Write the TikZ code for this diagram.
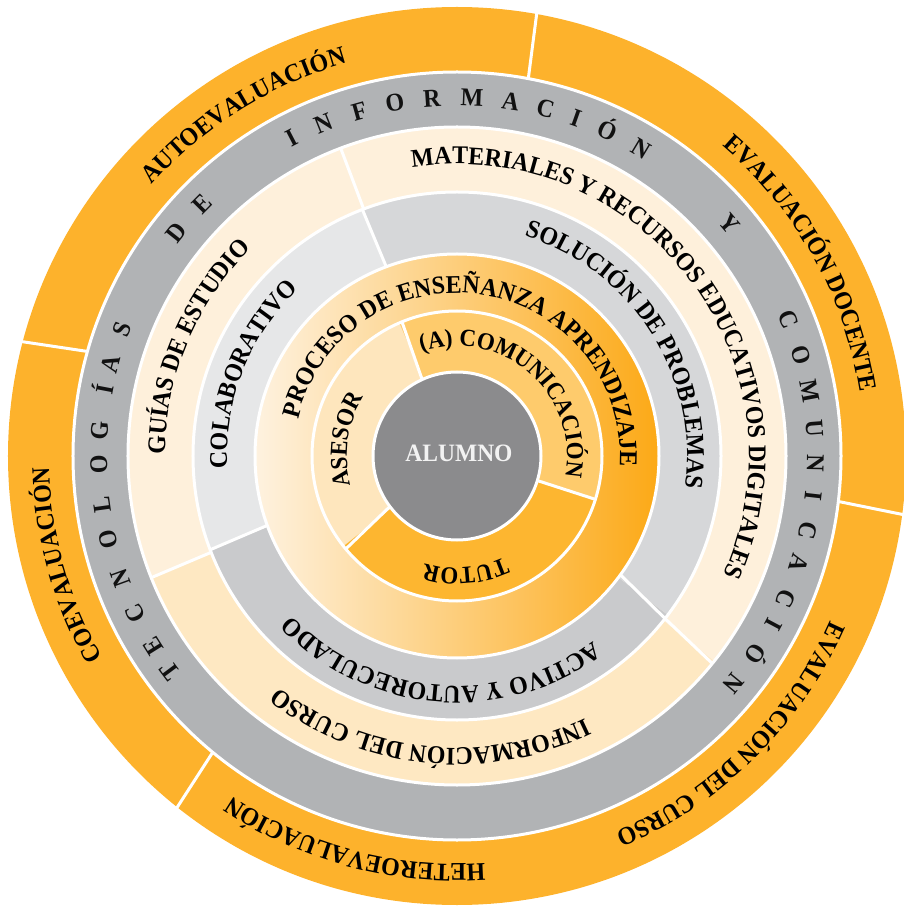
\documentclass[tikz,border=0pt]{standalone}
\usepackage{fontspec}
\setmainfont{Liberation Serif}[FakeStretch=0.94]
\usetikzlibrary{decorations.text}
\definecolor{orng}{HTML}{FDB22C}
\definecolor{grayring}{HTML}{B1B3B5}
\definecolor{cream}{HTML}{FEF0DB}
\definecolor{infocol}{HTML}{FEE8C2}
\definecolor{colab}{HTML}{E6E7E8}
\definecolor{soluc}{HTML}{D6D7D9}
\definecolor{activo}{HTML}{C9CACC}
\definecolor{alumcol}{HTML}{8B8B8D}
\definecolor{alumtext}{HTML}{F2F2F2}
\definecolor{asesorcol}{HTML}{FEE6BD}
\definecolor{comcol}{HTML}{FECB6C}
\definecolor{tutorcol}{HTML}{FDB630}
\definecolor{procL}{HTML}{FEF2E0}
\definecolor{procM}{HTML}{FEE2B2}
\definecolor{procR}{HTML}{FCA916}
\definecolor{txt}{HTML}{111111}
\newcommand\ringfont{\fontsize{25.5pt}{26pt}\selectfont\bfseries}
\newcommand\innerfont{\fontsize{24.5pt}{25pt}\selectfont\bfseries}
\newcommand\pieslice[4]{\fill[#1] (0,0) -- (#2:#4pt) arc[start angle=#2, end angle=#3, radius=#4pt] -- cycle;}
\newcommand\arctext[5][\ringfont]{\path[decorate,decoration={text along path,text align=center,text={|#1|#5}}] ({#2+#4}:#3pt) arc[start angle={#2+#4}, end angle={#2-#4}, radius=#3pt];}
\tikzset{
  sep/.style={draw=white, line width=3pt},
  grayletter/.style={anchor=base, inner sep=0pt, font=\ringfont, text=txt},
}
\begin{document}
\begin{tikzpicture}
\useasboundingbox (-457pt,-451pt) rectangle (446pt,456pt);
% outer orange ring and gray ring
\fill[orng] (0,0) circle[radius=449pt];
\fill[grayring] (0,0) circle[radius=384pt];
% ring 4
\fill[cream] (0,0) circle[radius=329pt];
\pieslice{infocol}{201.5}{321.4}{329}
% ring 3
\pieslice{colab}{110.7}{200.5}{264}
\pieslice{activo}{200.5}{323}{264}
\pieslice{soluc}{-37}{110.7}{264}
% proceso ring
\shade[left color=procL, middle color=procM, right color=procR] (0,0) circle[radius=202pt];
% inner ring
\pieslice{asesorcol}{113.4}{218.5}{145}
\pieslice{tutorcol}{218.5}{342.8}{145}
\pieslice{comcol}{-17.2}{113.4}{145}
% alumno
\fill[alumcol] (0,0) circle[radius=84pt];
% white ring boundaries
\foreach \r in {84,145,202,264,329,384} \draw[sep] (0,0) circle[radius=\r pt];
% dividers
\draw[sep] (79.3:384pt) -- (79.8:452pt);
\draw[sep] (164.2:384pt) -- (165.3:452pt);
\draw[sep] (230.5:384pt) -- (231.5:452pt);
\draw[sep] (-6.8:384pt) -- (-7.5:452pt);
\draw[sep] (110.7:264pt) -- (110.7:329pt);
\draw[sep] (201.4:264pt) -- (201.7:329pt);
\draw[sep] (-38:264pt) -- (-39.1:329pt);
\draw[sep] (110.5:202pt) -- (111:264pt);
\draw[sep] (200.1:202pt) -- (200.8:264pt);
\draw[sep] (-36:202pt) -- (-38:264pt);
\draw[sep] (114.5:84pt) -- (112.3:145pt);
\draw[sep] (-17:84pt) -- (-17.4:145pt);
\draw[sep] (217:84pt) -- (219.9:145pt);
% outer texts
\arctext{122}{408}{40}{AUTOEVALUACIÓN}
\arctext{29.2}{408}{40}{EVALUACIÓN DOCENTE}
\arctext{195.6}{408}{40}{COEVALUACIÓN}
\arctext{255.2}{408}{40}{HETEROEVALUACIÓN}
\arctext{-45.5}{408}{40}{EVALUACIÓN DEL CURSO}
% gray ring letters
\foreach \a/\l [count=\i] in {216.8/T,212.1/E,206.1/C,200/N,193.5/O,187.8/L,181.4/O,175.9/G,169.2/Í,165.1/A,159.3/S,141.5/D,135.3/E,117.4/I,111.9/N,105.8/F,100/O,94/R,87.6/M,81.4/A,75.7/C,70.6/I,65.1/Ó,59/N,40.4/Y,22.4/C,16.3/O,10.5/M,4.4/U,-1.1/N,-6.5/I,-12.1/C,-17.4/A,-23.4/C,-28/I,-33.5/Ó,-39.4/N}
  \node[grayletter, rotate=\a-90] (g\i) at (\a:350pt) {\l};
% ring 4 texts
\arctext{157.2}{292}{50}{GUÍAS DE ESTUDIO}
\arctext{37.4}{292}{75}{MATERIALES Y RECURSOS EDUCATIVOS DIGITALES}
\arctext{264.2}{292}{50}{INFORMACIÓN DEL CURSO}
% ring 3 texts
\arctext{158.3}{230}{50}{COLABORATIVO}
\arctext{32.5}{230}{60}{SOLUCIÓN DE PROBLEMAS}
\arctext{265.2}{230}{60}{ACTIVO Y AUTORECULADO}
% proceso
\arctext{81.6}{163}{100}{PROCESO DE ENSEÑANZA APRENDIZAJE}
% inner ring
\arctext[\innerfont]{48.9}{110}{90}{(A) COMUNICACIÓN}
\arctext[\innerfont]{171.7}{110}{60}{ASESOR}
\arctext[\innerfont]{274.2}{112}{60}{TUTOR}
% center
\node[font=\fontsize{25pt}{26pt}\selectfont\bfseries, text=alumtext, inner sep=0pt] (alumno) at (2pt,3pt) {ALUMNO};
\end{tikzpicture}
\end{document}
